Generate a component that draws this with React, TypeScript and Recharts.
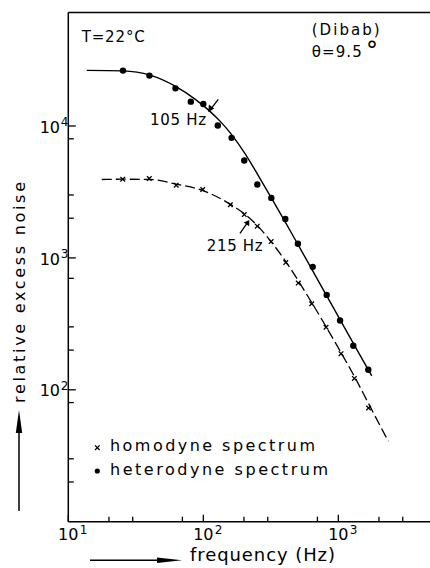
import { ComposedChart, Line, Scatter, XAxis, YAxis, ReferenceLine } from "recharts";

// measured points
const homFreq = [25.3, 39.8, 63, 99, 158.5, 201, 251, 318, 408, 505, 635, 811, 1047, 1315, 1675];
const homNoise = [3950, 4000, 3560, 3300, 2530, 2130, 1740, 1330, 921, 644, 449, 298, 188, 122, 72.8];
const hetFreq = [25.4, 39.9, 62.2, 80.8, 100, 128, 162, 201, 251, 319, 405, 502, 646, 820, 1030, 1291, 1667];
const hetNoise = [26300, 24100, 19300, 15300, 14700, 10100, 8130, 5470, 3600, 2850, 1970, 1280, 855, 524, 335, 216, 142];

// fitted curves, as drawn
const hetFitFreq = [13.7, 25.4, 40.3, 62.8, 86.8, 108.3, 133, 163.2, 203.7, 254.2, 318.9, 402.9, 502.9, 638.5, 810.9, 1029, 1307, 1768];
const hetFitNoise = [26400, 26170, 24310, 19890, 15990, 13310, 10890, 8531, 6176, 4243, 2850, 1885, 1261, 815, 527, 340.6, 220.1, 127.7];
const homFitFreq = [17.7, 25.4, 40.3, 62.8, 99.5, 157.7, 200.3, 251.2, 317.3, 406.3, 507.2, 638.5, 810.9, 1047, 1329, 1674, 2346];
const homFitNoise = [3930, 3950, 3930, 3627, 3238, 2558, 2168, 1758, 1329, 945.7, 667, 454.3, 301.4, 191.4, 123.8, 78.6, 40.7];

const freqTicks = [10, 20, 30, 70, 100, 200, 300, 700, 1000, 2000, 3000];
const noiseTicks = [20, 30, 80, 100, 200, 300, 700, 1000, 2000, 3000, 8000, 10000];
const FREQ_DOMAIN = [10, 4775];
const NOISE_DOMAIN = [10, 72400];

const pairs = (xs: number[], ys: number[]) => xs.map((f, i) => ({ f, v: ys[i] }));
const hom = pairs(homFreq, homNoise);
const het = pairs(hetFreq, hetNoise);
const homFit = pairs(homFitFreq, homFitNoise);
const hetFit = pairs(hetFitFreq, hetFitNoise);

const FONT = "'DejaVu Sans', sans-serif";
const isDecade = (v: number) => Math.abs(Math.log10(v) - Math.round(Math.log10(v))) < 1e-6;

function FreqTick({ x, y, payload }: any) {
  const v = payload.value;
  const major = isDecade(v);
  return (
    <g>
      <line x1={x} x2={x} y1={y} y2={y - (major ? 7 : 5)} stroke="#000" strokeWidth={1.3} />
      {major && (
        <>
          <text x={x} y={y + 18.5} textAnchor="middle" fontSize={16} fontFamily={FONT} fill="#000">10</text>
          <text x={x + 11.5} y={y + 12} fontSize={12} fontFamily={FONT} fill="#000">{Math.round(Math.log10(v))}</text>
        </>
      )}
    </g>
  );
}

function NoiseTick({ x, y, payload }: any) {
  const v = payload.value;
  const major = isDecade(v);
  return (
    <g>
      <line x1={x} x2={x + (major ? 7.5 : 5.5)} y1={y} y2={y} stroke="#000" strokeWidth={1.3} />
      {major && (
        <>
          <text x={x - 8.3} y={y + 6.7} textAnchor="end" fontSize={16} fontFamily={FONT} fill="#000">10</text>
          <text x={x - 7.5} y={y} fontSize={12} fontFamily={FONT} fill="#000">{Math.round(Math.log10(v))}</text>
        </>
      )}
    </g>
  );
}

const Dot = (p: any) => <circle cx={p.cx} cy={p.cy} r={3.2} fill="#000" />;
const Cross = (p: any) => (
  <path
    d={`M${p.cx - 2.3},${p.cy - 2.3}L${p.cx + 2.3},${p.cy + 2.3}M${p.cx - 2.3},${p.cy + 2.3}L${p.cx + 2.3},${p.cy - 2.3}`}
    stroke="#000"
    strokeWidth={1.3}
  />
);

export default function App() {
  return (
    <div
      style={{
        position: "absolute", left: 0, top: 0, width: 430, height: 568,
        background: "#fff", overflow: "hidden", fontFamily: FONT,
      }}
    >
      <ComposedChart width={430} height={568} margin={{ top: 12.6, right: 0, bottom: 0, left: 0 }}>
        <XAxis
          dataKey="f" type="number" scale="log" domain={FREQ_DOMAIN} allowDataOverflow
          ticks={freqTicks} interval={0} tickSize={0} tickMargin={0} tickLine={false}
          tick={<FreqTick />} height={46.3} axisLine={{ stroke: "#000", strokeWidth: 1.5 }}
        />
        <YAxis
          type="number" scale="log" domain={NOISE_DOMAIN} allowDataOverflow
          ticks={noiseTicks} interval={0} tickSize={0} tickMargin={0} tickLine={false}
          tick={<NoiseTick />} width={68.3} axisLine={{ stroke: "#000", strokeWidth: 1.5 }}
        />
        <ReferenceLine y={NOISE_DOMAIN[1]} stroke="#000" strokeWidth={1.5} />
        <Line data={hetFit} dataKey="v" type="monotone" stroke="#000" strokeWidth={1.4} dot={false} isAnimationActive={false} />
        <Line data={homFit} dataKey="v" type="monotone" stroke="#000" strokeWidth={1.3} strokeDasharray="10 4" dot={false} isAnimationActive={false} />
        <Scatter data={het} dataKey="v" shape={Dot} isAnimationActive={false} />
        <Scatter data={hom} dataKey="v" shape={Cross} isAnimationActive={false} />
      </ComposedChart>

      <svg width={430} height={568} style={{ position: "absolute", left: 0, top: 0, pointerEvents: "none" }} fontFamily={FONT} fill="#000">
        <text x={81.7} y={41.7} fontSize={15} textLength={63} lengthAdjust="spacing">T=22°C</text>
        <text x={311.7} y={35} fontSize={15} textLength={68} lengthAdjust="spacing">(Dibab)</text>
        <text x={311.7} y={57.3} fontSize={15} textLength={50} lengthAdjust="spacing">θ=9.5</text>
        <text x={366} y={59} fontSize={24}>°</text>

        <text x={150} y={124.5} fontSize={15} textLength={56} lengthAdjust="spacing">105 Hz</text>
        <line x1={218.3} y1={99.3} x2={211.5} y2={108.2} stroke="#000" strokeWidth={1.3} />
        <polygon points="208.3,112.3 208.9,104.6 214.2,108.6" fill="#000" />

        <text x={206.7} y={251} fontSize={15} textLength={56} lengthAdjust="spacing">215 Hz</text>
        <line x1={240} y1={233.3} x2={246.6} y2={223.9} stroke="#000" strokeWidth={1.3} />
        <polygon points="249.3,220 243.8,222.4 249.2,226.2" fill="#000" />

        <path d="M95,445.4L99.6,450M95,450L99.6,445.4" stroke="#000" strokeWidth={1.3} />
        <text x={110} y={451} fontSize={16} textLength={205} lengthAdjust="spacing">homodyne spectrum</text>
        <circle cx={97.3} cy={471} r={2.6} fill="#000" />
        <text x={110} y={474.5} fontSize={16} textLength={218} lengthAdjust="spacing">heterodyne spectrum</text>

        <text transform="translate(25,292.5) rotate(-90)" textAnchor="middle" fontSize={16} textLength={221} lengthAdjust="spacing">
          relative excess noise
        </text>
        <line x1={19} y1={511} x2={19} y2={430} stroke="#000" strokeWidth={1.5} />
        <polygon points="19,410 15.8,433 22.2,433" fill="#000" />

        <line x1={90} y1={560.3} x2={162} y2={560.3} stroke="#000" strokeWidth={1.5} />
        <polygon points="182,560.3 157,557.5 157,563.1" fill="#000" />
        <text x={190} y={561} fontSize={18} textLength={145} lengthAdjust="spacing">frequency (Hz)</text>
      </svg>
    </div>
  );
}
